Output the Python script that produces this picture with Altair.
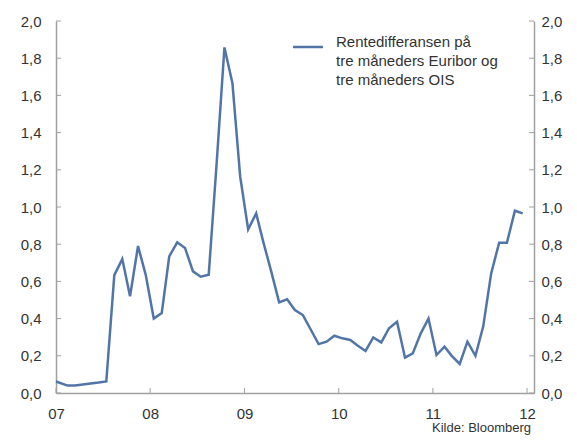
import altair as alt
import pandas as pd

# ---- data ----
years = [2007, 2008, 2009, 2010, 2011]
values_2007 = [0.062, 0.040, 0.040, 0.046, 0.051, 0.056, 0.062, 0.634, 0.720, 0.520, 0.790, 0.634]
values_2008 = [0.400, 0.430, 0.735, 0.810, 0.780, 0.654, 0.625, 0.636, 1.240, 1.858, 1.665, 1.163]
values_2009 = [0.880, 0.966, 0.810, 0.650, 0.487, 0.504, 0.446, 0.419, 0.340, 0.263, 0.276, 0.308]
values_2010 = [0.294, 0.285, 0.255, 0.226, 0.299, 0.272, 0.348, 0.383, 0.190, 0.213, 0.321, 0.400]
values_2011 = [0.204, 0.249, 0.200, 0.156, 0.276, 0.200, 0.357, 0.643, 0.808, 0.808, 0.980, 0.966]
all_values = values_2007 + values_2008 + values_2009 + values_2010 + values_2011

# monthly observations (plotted mid-month; the first one at the start of the axis)
dates = []
for y in years:
    for m in range(1, 13):
        day = 1 if (y == 2007 and m == 1) else 15
        dates.append(f"{y}-{m:02d}-{day:02d}T00:00:00")

y_ticks = [0.0, 0.2, 0.4, 0.6, 0.8, 1.0, 1.2, 1.4, 1.6, 1.8, 2.0]
x_tick_dates = ["2007-01-01T00:00:00", "2008-01-01T00:00:00", "2009-01-01T00:00:00",
                "2010-01-01T00:00:00", "2011-01-01T00:00:00", "2012-01-01T00:00:00"]

legend_text = "Rentedifferansen på\ntre måneders Euribor og\ntre måneders OIS"
source_text = "Kilde: Bloomberg"

df = pd.DataFrame({"date": dates, "value": all_values})
ytick_df = pd.DataFrame({"v": y_ticks})
xtick_df = pd.DataFrame({"d": x_tick_dates})
one = pd.DataFrame({"a": [0]})

# ---- styling ----
W, H = 478, 372
LINE = "#5275a8"
GREY = "#a0a0a0"
TXT = "#333333"
FONT = "Liberation Sans"

x_dom = [alt.DateTime(year=2007, month=1, date=1), alt.DateTime(year=2012, month=1, date=28)]
x_scale = alt.Scale(domain=x_dom)
y_scale = alt.Scale(domain=[0, 2], nice=False, zero=True)

num_expr = "replace(format(datum.value, '.1f'), '.', ',')"

x_axis = alt.Axis(
    values=[alt.DateTime(year=y, month=1, date=1) for y in range(2007, 2013)],
    format="%y",
    ticks=False, tickSize=0, labelPadding=13, grid=False, title=None,
    domainColor=GREY, domainWidth=1.5,
    labelFont=FONT, labelFontSize=15, labelColor=TXT, labelFlush=False,
)
left_axis = alt.Axis(
    orient="left", values=y_ticks, labelExpr=num_expr,
    ticks=False, tickSize=0, labelPadding=15, grid=False, title=None,
    domainColor=GREY, domainWidth=1.5,
    labelFont=FONT, labelFontSize=15, labelColor=TXT,
)
right_axis = alt.Axis(
    orient="right", values=y_ticks, labelExpr=num_expr,
    ticks=False, tickSize=0, labelPadding=7, grid=False, title=None,
    domainColor=GREY, domainWidth=1.5,
    labelFont=FONT, labelFontSize=15, labelColor=TXT,
)

line = alt.Chart(df).mark_line(color=LINE, strokeWidth=2.5).encode(
    x=alt.X("date:T", scale=x_scale, axis=x_axis),
    y=alt.Y("value:Q", scale=y_scale, axis=left_axis),
)

left_ticks = alt.Chart(ytick_df).mark_rule(color=GREY, strokeWidth=1).encode(
    y=alt.Y("v:Q", scale=y_scale, axis=None),
    x=alt.value(0), x2=alt.value(5),
)
right_ticks = alt.Chart(ytick_df).mark_rule(color=GREY, strokeWidth=1).encode(
    y=alt.Y("v:Q", scale=y_scale, axis=right_axis),
    x=alt.value(W - 5), x2=alt.value(W),
)
bottom_ticks = alt.Chart(xtick_df).mark_rule(color=GREY, strokeWidth=1).encode(
    x=alt.X("d:T", scale=x_scale, axis=x_axis),
    y=alt.value(H - 5), y2=alt.value(H),
)

legend_line = alt.Chart(one).mark_rule(color=LINE, strokeWidth=2.5).encode(
    x=alt.value(237), x2=alt.value(267), y=alt.value(26),
)
legend_label = alt.Chart(one).mark_text(
    text=legend_text, lineBreak="\n", align="left", baseline="alphabetic",
    font=FONT, fontSize=15, color=TXT, lineHeight=19,
).encode(x=alt.value(280), y=alt.value(26))

source = alt.Chart(one).mark_text(
    text=source_text, align="right", baseline="alphabetic",
    font=FONT, fontSize=13, color=TXT,
).encode(x=alt.value(475), y=alt.value(411))

chart = alt.layer(
    line, bottom_ticks, left_ticks, right_ticks, legend_line, legend_label, source
).resolve_scale(y="independent").resolve_axis(y="independent").properties(
    width=W, height=H,
    autosize=alt.AutoSizeParams(type="none"),
    padding={"left": 48, "top": 13, "right": 35, "bottom": 45},
).configure_view(stroke=None)

chart.save("out.html", embed_options={"renderer": "svg", "actions": False})
